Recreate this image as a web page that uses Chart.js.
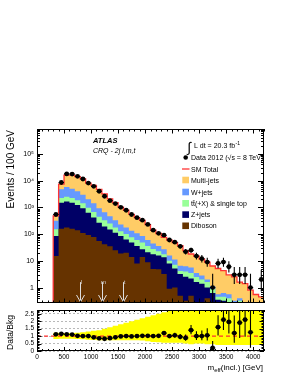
<!DOCTYPE html>
<html>
<head>
<meta charset="utf-8">
<title>meff CRQ 2j</title>
<script src="https://cdn.jsdelivr.net/npm/chart.js@4.4.1/dist/chart.umd.min.js"></script>
<style>
  body { margin: 0; background: #fff; }
  #ratio { position: absolute; left: 0; top: 306px; }
  #main { position: absolute; left: 0; top: 0; }
</style>
</head>
<body>
<canvas id="ratio" width="289" height="68"></canvas>
<canvas id="main" width="289" height="307"></canvas>
<script>
// =========================== Data
const binLow = [300, 400, 500, 600, 700, 800, 900, 1000, 1100, 1200, 1300, 1400, 1500, 1600, 1700, 1800, 1900, 2000, 2100, 2200,
                2300, 2400, 2500, 2600, 2700, 2800, 2900, 3000, 3100, 3200, 3300, 3400, 3500, 3600, 3700, 3800, 3900, 4000, 4100]
const binWidth = 100

const diboson = [15, 157, 175, 160, 140, 110, 92, 78, 55, 42, 35, 25, 19, 20, 14, 7.9, 14, 8.9, 5, 4.8,
                 3.2, 0.9, 1, 0.5, 0.32, 0.5, 0.25, 0.25, 0.4, 0.2, 0.16, 0.16, 0.13, 0.1, 0.1, 0.05, 0.05, 0.03, 0.02]
const zjets = [70, 1322, 1485, 1320, 1090, 823, 540, 339, 208, 149, 113, 87, 66, 43, 34, 27.6, 13, 12.1, 12.8, 11,
               10.3, 7, 4.2, 2.7, 2.2, 1.7, 1.35, 1.15, 0.6, 0.43, 0.19, 0.16, 0.15, 0.1, 0.15, 0.1, 0.05, 0.04, 0.03]
const ttbar = [66, 760, 850, 760, 630, 480, 324, 259, 184, 140, 103, 66, 44, 37, 28, 24.5, 21, 14.5, 9.7, 7.1,
               4.3, 2.1, 1.9, 1.0, 1.5, 1.3, 0.9, 0.6, 0.6, 0.26, 0.1, 0.13, 0.12, 0.05, 0.07, 0.05, 0.03, 0.02, 0.02]
const wjets = [165, 2547, 3240, 2770, 2120, 1540, 1040, 737, 486, 330, 217, 153, 100, 78, 56, 47, 37, 24.5, 17.2, 12.6,
               9.1, 5.8, 4.1, 2.3, 2.3, 2.1, 1.0, 0.8, 0.4, 0.23, 0.11, 0.18, 0.16, 0.07, 0.08, 0.05, 0.05, 0.03, 0.03]
const multijet = [164, 2614, 10150, 10990, 10120, 8550, 6100, 5220, 3770, 2510, 1600, 1170, 790, 600, 418, 303, 239, 165, 95, 69.5,
                  49, 44, 37, 30.5, 17.7, 12.4, 11.5, 8.7, 7, 5.3, 4.6, 3.7, 2.4, 2.2, 1.2, 1.15, 0.62, 0.43, 0.35]
const data = [540, 8500, 17800, 17600, 14400, 11500, 8100, 6100, 4000, 2600, 1780, 1380, 1000, 780, 540, 410, 330, 230, 140, 107,
              91, 60, 50, 35, 22, 25, 15, 12, 9, 1, 8, 9, 6, 3, 3, 3, 1, null, 2]

const ratio = [1.12, 1.15, 1.12, 1.1, 1.02, 1.0, 1.0, 0.92, 0.85, 0.82, 0.86, 0.92, 0.98, 1.0, 0.98, 1.0, 1.02, 1.02, 1.0, 1.02,
               1.2, 1.0, 1.05, 0.95, 0.88, 1.4, 1.0, 1.0, 1.05, 0.2, 1.6, 2.1, 1.95, 1.2, 1.9, 2.1, 1.25, null, null]
const bandUp = [1.22, 1.2, 1.2, 1.2, 1.22, 1.25, 1.3, 1.35, 1.4, 1.5, 1.6, 1.7, 1.8, 1.9, 2.0, 2.1, 2.2, 2.3, 2.4, 2.5,
                2.6, 2.7, 2.8, 2.9, 3, 3, 3, 3, 3, 3, 3, 3, 3, 3, 3, 3, 3, 3, 3]
const bandDown = [0.8, 0.82, 0.82, 0.82, 0.8, 0.78, 0.76, 0.74, 0.72, 0.72, 0.72, 0.72, 0.72, 0.72, 0.72, 0.72, 0.7, 0.65, 0.6, 0.58,
                  0.55, 0.55, 0.55, 0.55, 0.5, 0.45, 0.5, 0.5, 0.45, 0.45, 0.4, 0.4, 0.4, 0.4, 0.4, 0.4, 0.4, 0.4, 0.4]

const yTicksMain = [1, 10, 100, 1000, 10000, 100000]
const yTickLabelsMain = ['1', '10', '10²', '10³', '10⁴', '10⁵']
const xTicks = [0, 500, 1000, 1500, 2000, 2500, 3000, 3500, 4000]
const yTicksRatio = [0, 0.5, 1, 1.5, 2, 2.5]
const arrowCuts = [800, 1200, 1600]
const arrowLabels = ['l', 'm', 't']
const legendLabels = ['Multi-jets', 'W+jets', 'tt\u0304(+X) & single top', 'Z+jets', 'Diboson']

// =========================== Look
const xmin = 0, xmax = 4200
const ymin = 0.265, ymax = 8.5e5
const rmin = 0, rmax = 2.75
const colors = { multijet: '#ffcc66', wjets: '#6699ff', ttbar: '#99ff99', zjets: '#000066', diboson: '#663300' }
const FAM = "'Liberation Sans', Arial, sans-serif"
const f = (size, style = '') => `${style} ${size}px ${FAM}`

Chart.defaults.font.family = FAM
Chart.defaults.color = '#000'
Chart.defaults.animation = false

// =========================== Helpers
function steps(arr){
    const pts = binLow.map((x, i) => ({x: x, y: arr[i]}))
    pts.push({x: binLow[binLow.length - 1] + binWidth, y: arr[arr.length - 1]})
    return pts
}

function poisson(n){
    const up = n + Math.sqrt(n + 0.75) + 1
    const dn = n * Math.pow(1 - 1 / (9 * n) - 1 / (3 * Math.sqrt(n)), 3)
    return [dn, up]
}

// stacked tops, bottom process first
const stackOrder = [diboson, zjets, ttbar, wjets, multijet]
const cum = []
stackOrder.forEach((arr, k) => {
    cum.push(arr.map((v, i) => v + (k ? cum[k - 1][i] : 0)))
})
const total = cum[cum.length - 1]

const dataPts = []
binLow.forEach((x, i) => { if(data[i] != null) dataPts.push({x: x + binWidth / 2, y: data[i]}) })
const ratioPts = []
binLow.forEach((x, i) => { if(ratio[i] != null) ratioPts.push({x: x + binWidth / 2, y: ratio[i]}) })

const totalPts = [{x: xmin, y: ymin}].concat(steps(total))

function stackSet(label, arr, color, order){
    return {
        label: label, data: steps(arr), stepped: true, fill: 'start',
        backgroundColor: color, borderColor: 'rgba(0,0,0,0)', borderWidth: 0,
        pointRadius: 0, order: order
    }
}

function drawFrame(ctx, a, xs, yTickPix, xMajLen, xMinLen){
    ctx.save()
    ctx.strokeStyle = '#000'
    ctx.lineWidth = 1
    ctx.strokeRect(a.left + 0.5, a.top + 0.5, a.right - a.left - 1, a.bottom - a.top - 1)
    ctx.beginPath()
    for(let v = xmin; v <= xmax; v += 100){
        const px = Math.round(xs.getPixelForValue(v)) + 0.5
        const len = v % 500 === 0 ? xMajLen : xMinLen
        ctx.moveTo(px, a.bottom); ctx.lineTo(px, a.bottom - len)
        ctx.moveTo(px, a.top); ctx.lineTo(px, a.top + len)
    }
    yTickPix.forEach(([py, len]) => {
        py = Math.round(py) + 0.5
        ctx.moveTo(a.left, py); ctx.lineTo(a.left + len, py)
        ctx.moveTo(a.right, py); ctx.lineTo(a.right - len, py)
    })
    ctx.stroke()
    ctx.restore()
}

function errorBars(chart, vals, errs){
    const ctx = chart.ctx, xs = chart.scales.x, ys = chart.scales.y, a = chart.chartArea
    ctx.save()
    ctx.beginPath(); ctx.rect(a.left, a.top, a.right - a.left, a.bottom - a.top); ctx.clip()
    ctx.strokeStyle = '#000'
    ctx.lineWidth = 1.1
    binLow.forEach((lo, i) => {
        const v = vals[i]
        if(v == null) return
        const [dn, up] = errs(i)
        const px = xs.getPixelForValue(lo + binWidth / 2)
        const py = ys.getPixelForValue(v)
        const yDn = dn > 0 ? ys.getPixelForValue(dn) : a.bottom + 5
        ctx.beginPath()
        ctx.moveTo(px, Math.min(yDn, a.bottom + 5))
        ctx.lineTo(px, ys.getPixelForValue(up))
        ctx.moveTo(xs.getPixelForValue(lo), py)
        ctx.lineTo(xs.getPixelForValue(lo + binWidth), py)
        ctx.stroke()
    })
    ctx.restore()
}

// =========================== Main panel
const mainDecor = {
    id: 'mainDecor',
    afterDatasetsDraw(chart){
        errorBars(chart, data, i => poisson(data[i]))

        const ctx = chart.ctx, xs = chart.scales.x, ys = chart.scales.y, a = chart.chartArea
        ctx.save()
        ctx.strokeStyle = '#dedede'
        ctx.fillStyle = '#d6d6d6'
        ctx.lineWidth = 1
        ctx.font = f(6)
        ctx.textAlign = 'center'
        arrowCuts.forEach((c, k) => {
            const px = Math.round(xs.getPixelForValue(c)) + 0.5
            const y0 = ys.getPixelForValue(1.6)
            const tip = a.bottom - 1
            ctx.beginPath()
            ctx.moveTo(px, y0); ctx.lineTo(px, tip)
            ctx.moveTo(px - 4, tip - 7); ctx.lineTo(px, tip); ctx.lineTo(px + 4, tip - 7)
            ctx.stroke()
            ctx.fillText(arrowLabels[k], px + 1, y0 + 2)
        })
        ctx.restore()
    },
    afterDraw(chart){
        const ctx = chart.ctx, xs = chart.scales.x, ys = chart.scales.y, a = chart.chartArea
        const yPix = []
        for(let k = -1; k <= 5; k++){
            for(let m = 1; m <= 9; m++){
                const v = m * Math.pow(10, k)
                if(v < ymin || v > ymax) continue
                yPix.push([ys.getPixelForValue(v), m === 1 ? 6 : 3])
            }
        }
        drawFrame(ctx, a, xs, yPix, 4.5, 2.5)

        ctx.save()
        ctx.fillStyle = '#000'
        ctx.textBaseline = 'alphabetic'
        // ATLAS label
        ctx.font = f(7.5, 'italic bold')
        ctx.fillText('ATLAS', 93, 142.5)
        ctx.font = f(7, 'italic')
        ctx.fillText('CRQ - 2j l,m,t', 93, 153)

        // luminosity
        ctx.font = f(14)
        ctx.fillText('∫', 187.5, 152)
        ctx.font = f(7)
        ctx.fillText('L dt = 20.3 fb', 194, 147.5)
        const w = ctx.measureText('L dt = 20.3 fb').width
        ctx.font = f(5)
        ctx.fillText('-1', 194 + w + 0.5, 144.5)

        // legend
        ctx.font = f(7)
        ctx.beginPath(); ctx.arc(185.7, 157.5, 2.3, 0, Math.PI * 2); ctx.fill()
        ctx.fillText('Data 2012 (√s = 8 TeV)', 191, 160)
        ctx.strokeStyle = '#ff3333'
        ctx.lineWidth = 1.3
        ctx.beginPath(); ctx.moveTo(182, 169); ctx.lineTo(189.5, 169); ctx.stroke()
        ctx.fillText('SM Total', 191, 171.5)
        const boxCols = [colors.multijet, colors.wjets, colors.ttbar, colors.zjets, colors.diboson]
        const boxY = [180, 192, 203.3, 214.6, 225.8]
        legendLabels.forEach((lab, k) => {
            ctx.fillStyle = boxCols[k]
            ctx.fillRect(182.3, boxY[k] - 3.3, 6.7, 6.6)
            ctx.fillStyle = '#000'
            ctx.fillText(lab, 191, boxY[k] + 2.5)
        })

        // y title
        ctx.translate(14, 130)
        ctx.rotate(-Math.PI / 2)
        ctx.textAlign = 'right'
        ctx.font = f(10)
        ctx.fillText('Events / 100 GeV', 0, 0)
        ctx.restore()
    }
}

new Chart(document.getElementById('main'), {
    type: 'line',
    data: {
        datasets: [
            {label: 'Data', data: dataPts, showLine: false, pointRadius: 2.4, pointBackgroundColor: '#000',
             pointBorderWidth: 0, order: 0},
            {label: 'SM Total', data: totalPts, stepped: true, borderColor: '#ff3333', borderWidth: 1.3,
             pointRadius: 0, fill: false, order: 1},
            stackSet('Diboson', cum[0], colors.diboson, 2),
            stackSet('Z+jets', cum[1], colors.zjets, 3),
            stackSet('ttbar', cum[2], colors.ttbar, 4),
            stackSet('W+jets', cum[3], colors.wjets, 5),
            stackSet('Multi-jets', cum[4], colors.multijet, 6)
        ]
    },
    options: {
        responsive: false,
        animation: false,
        layout: {padding: {left: 0, right: 25, top: 129, bottom: 3}},
        plugins: {legend: {display: false}, tooltip: {enabled: false}},
        scales: {
            x: {type: 'linear', min: xmin, max: xmax, display: false},
            y: {
                type: 'logarithmic', min: ymin, max: ymax,
                afterFit: s => { s.width = 37; s.paddingTop = 0; s.paddingBottom = 0 },
                afterBuildTicks: s => { s.ticks = yTicksMain.map(v => ({value: v})) },
                ticks: {callback: (v, i) => yTickLabelsMain[i], font: {size: 7}, padding: 3, autoSkip: false},
                grid: {display: false, drawTicks: false},
                border: {display: false}
            }
        }
    },
    plugins: [mainDecor]
})

// =========================== Ratio panel
const ratioDecor = {
    id: 'ratioDecor',
    afterDatasetsDraw(chart){
        errorBars(chart, ratio, i => {
            const [dn, up] = poisson(data[i])
            return [ratio[i] * dn / data[i], ratio[i] * up / data[i]]
        })
    },
    afterDraw(chart){
        const ctx = chart.ctx, xs = chart.scales.x, ys = chart.scales.y, a = chart.chartArea
        const yPix = []
        for(let k = 0; k <= 27; k++){
            const v = k / 10
            yPix.push([ys.getPixelForValue(v), k % 5 === 0 ? 4.5 : 2.5])
        }
        drawFrame(ctx, a, xs, yPix, 4, 2)

        ctx.save()
        ctx.fillStyle = '#000'
        // x title
        ctx.textBaseline = 'alphabetic'
        const base = 64
        ctx.font = f(8)
        const tail = '(incl.) [GeV]'
        const wTail = ctx.measureText(tail).width
        const wM = ctx.measureText('m').width
        ctx.font = f(6)
        const wSub = ctx.measureText('eff').width
        let x0 = 263 - wTail - wSub - wM
        ctx.font = f(8)
        ctx.fillText('m', x0, base)
        ctx.font = f(6)
        ctx.fillText('eff', x0 + wM, base + 2)
        ctx.font = f(8)
        ctx.fillText(tail, x0 + wM + wSub, base)

        // y title
        ctx.translate(12.5, 9)
        ctx.rotate(-Math.PI / 2)
        ctx.textAlign = 'right'
        ctx.font = f(8.5)
        ctx.fillText('Data/Bkg', 0, 0)
        ctx.restore()
    }
}

new Chart(document.getElementById('ratio'), {
    type: 'line',
    data: {
        datasets: [
            {data: ratioPts, showLine: false, pointRadius: 2.4, pointBackgroundColor: '#000', pointBorderWidth: 0, order: 0},
            {data: [{x: xmin, y: 1}, {x: xmax, y: 1}], borderColor: '#ff3030', borderWidth: 1.2, borderDash: [4, 3],
             pointRadius: 0, fill: false, order: 1},
            {data: steps(bandUp), stepped: true, fill: '+1', backgroundColor: '#ffff00', borderColor: 'rgba(0,0,0,0)',
             borderWidth: 0, pointRadius: 0, order: 2},
            {data: steps(bandDown), stepped: true, fill: false, borderColor: 'rgba(0,0,0,0)', borderWidth: 0,
             pointRadius: 0, order: 3}
        ]
    },
    options: {
        responsive: false,
        animation: false,
        layout: {padding: {left: 0, right: 25, top: 2, bottom: 0}},
        plugins: {legend: {display: false}, tooltip: {enabled: false}},
        scales: {
            x: {
                type: 'linear', min: xmin, max: xmax,
                afterFit: s => { s.height = 23; s.paddingLeft = 0; s.paddingRight = 0 },
                afterBuildTicks: s => { s.ticks = xTicks.map(v => ({value: v})) },
                ticks: {callback: v => String(v), font: {size: 6.5}, padding: 2, autoSkip: false, maxRotation: 0},
                grid: {display: false, drawTicks: false},
                border: {display: false}
            },
            y: {
                min: rmin, max: rmax,
                afterFit: s => { s.width = 37; s.paddingTop = 0; s.paddingBottom = 0 },
                afterBuildTicks: s => { s.ticks = yTicksRatio.map(v => ({value: v})) },
                ticks: {callback: v => String(v), font: {size: 6.5}, padding: 3, autoSkip: false},
                grid: {color: '#9a9a9a', lineWidth: 0.7, drawTicks: false},
                border: {display: false, dash: [2, 2]}
            }
        }
    },
    plugins: [ratioDecor]
})
</script>
</body>
</html>
